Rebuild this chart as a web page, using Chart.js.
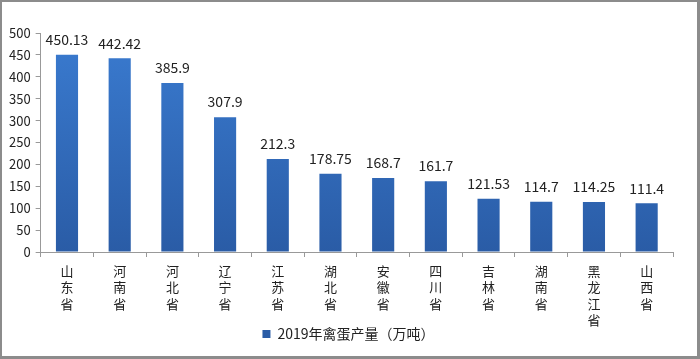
<!DOCTYPE html>
<html><head><meta charset="utf-8">
<script src="https://cdn.jsdelivr.net/npm/chart.js@4/dist/chart.umd.min.js"></script>
<style>
html,body{margin:0;padding:0;background:#fff;}
#wrap{position:absolute;left:0;top:0;width:700px;height:359px;box-sizing:border-box;border:2px solid #8c8c8c;border-right-width:3px;border-bottom-width:3px;}
canvas{display:block;}
</style></head>
<body><div id="wrap"><canvas id="c" width="695" height="354"></canvas></div>
<script>
const categories = ['山东省','河南省','河北省','辽宁省','江苏省','湖北省','安徽省','四川省','吉林省','湖南省','黑龙江省','山西省'];
const values = [450.13, 442.42, 385.9, 307.9, 212.3, 178.75, 168.7, 161.7, 121.53, 114.7, 114.25, 111.4];
const valueLabels = ['450.13','442.42','385.9','307.9','212.3','178.75','168.7','161.7','121.53','114.7','114.25','111.4'];
const seriesName = '2019年禽蛋产量（万吨）';

const FONT = "'Noto Sans CJK SC','Liberation Sans',sans-serif";

const labelPlugin = {
  id: 'vals',
  afterLayout(chart) {
    // nudge the legend so it sits beside the lowest category labels
    const l = chart.legend;
    if (l) { l.top -= 3; l.bottom -= 3; l.left += 10; l.right += 10; }
  },
  afterDatasetsDraw(chart) {
    const ctx = chart.ctx;
    const meta = chart.getDatasetMeta(0);
    ctx.save();
    ctx.font = "14px " + FONT;
    ctx.fillStyle = '#222';
    ctx.textAlign = 'center';
    ctx.textBaseline = 'bottom';
    meta.data.forEach((bar, i) => {
      ctx.fillText(valueLabels[i], bar.x, bar.y - 8);
    });
    ctx.restore();
  }
};

function barGradient(context) {
  const chart = context.chart;
  const area = chart.chartArea;
  if (!area) return '#3470c0';
  const g = chart.ctx.createLinearGradient(0, area.top, 0, area.bottom);
  g.addColorStop(0, '#3a7bd0');
  g.addColorStop(1, '#2a5ca6');
  return g;
}

new Chart(document.getElementById('c'), {
  type: 'bar',
  data: {
    labels: categories.map(s => s.split('')),
    datasets: [{
      label: seriesName,
      data: values,
      backgroundColor: barGradient,
      barPercentage: 0.84,
      categoryPercentage: 0.5
    }]
  },
  options: {
    responsive: false,
    animation: false,
    devicePixelRatio: 1,
    layout: { padding: { top: 31, right: 24, left: 2, bottom: 2 } },
    plugins: {
      legend: {
        position: 'bottom',
        align: 'center',
        labels: {
          font: { size: 14, family: FONT },
          color: '#222',
          boxWidth: 8, boxHeight: 8,
          usePointStyle: true, pointStyle: 'rect',
          padding: 0
        }
      },
      tooltip: { enabled: false }
    },
    scales: {
      x: {
        afterFit(scale) { scale.height = 78; },
        grid: { display: true, drawOnChartArea: false, offset: true, color: '#999', tickLength: 5 },
        border: { color: '#999' },
        ticks: { font: { size: 13, family: FONT, lineHeight: 1.254 }, color: '#222', maxRotation: 0, padding: 6 }
      },
      y: {
        min: 0, max: 500,
        grid: { display: true, drawOnChartArea: false, color: '#999', tickLength: 5 },
        border: { color: '#999' },
        ticks: { stepSize: 50, font: { size: 13, family: FONT }, color: '#222', padding: 5 }
      }
    }
  },
  plugins: [labelPlugin]
});
</script></body></html>
